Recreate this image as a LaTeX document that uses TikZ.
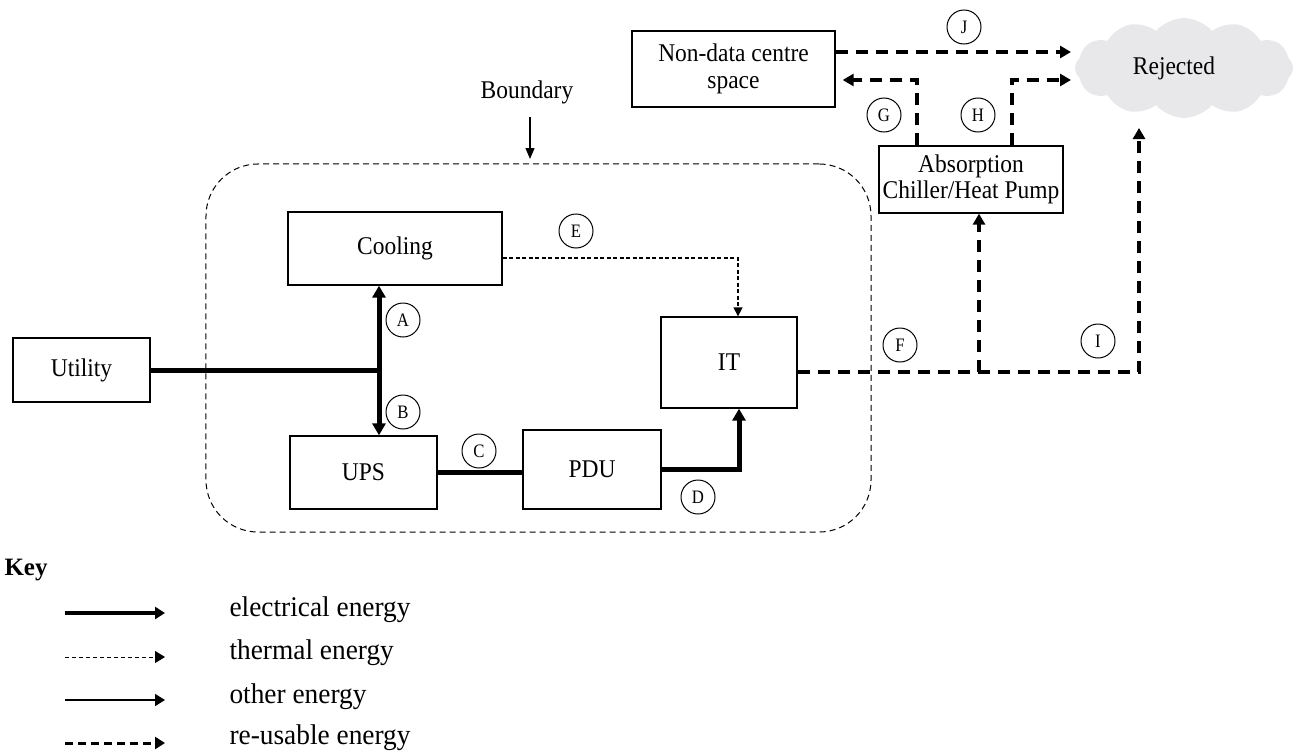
\documentclass[tikz,border=0pt]{standalone}
\usepackage{fontspec}
\setmainfont{Liberation Serif}
\newfontfamily\boxfont[FakeStretch=0.92]{Liberation Serif}
\newfontfamily\labfont[FakeStretch=0.88]{Liberation Serif}
\newfontfamily\keyfont[FakeStretch=0.96]{Liberation Serif}
\usetikzlibrary{arrows.meta,calc,shapes.symbols}
\definecolor{cloudgray}{RGB}{232,232,234}
\begin{document}
\begin{tikzpicture}[x=1bp,y=-1bp,
  box/.style={draw, line width=1.3bp, inner sep=1bp, align=center,
    font=\boxfont\fontsize{25.5bp}{26.5bp}\selectfont},
  lab/.style={draw, circle, line width=1bp, minimum size=34bp, inner sep=0pt,
    font=\labfont\fontsize{19bp}{19bp}\selectfont},
  plain/.style={font=\boxfont\fontsize{25.5bp}{26bp}\selectfont},
  keytext/.style={anchor=west, font=\keyfont\fontsize{28.5bp}{28.5bp}\selectfont},
  eline/.style={line width=5bp},
  elec/.style={line width=5bp, -{Triangle[length=12bp,width=13bp]}},
  elecboth/.style={line width=5bp, {Triangle[length=12bp,width=13bp]}-{Triangle[length=12bp,width=13bp]}},
  therm/.style={line width=1.3bp, dash pattern=on 4bp off 2.5bp, -{Triangle[length=9bp,width=9bp]}},
  reuse/.style={line width=3.5bp, dash pattern=on 12bp off 8bp, -{Triangle[length=11bp,width=12bp]}},
  bnd/.style={draw, line width=1bp, dash pattern=on 6bp off 4bp, rounded corners=52bp},
  thinarrow/.style={line width=1.3bp, -{Triangle[length=11bp,width=9bp]}},
  kelec/.style={line width=3.3bp, -{Triangle[length=10bp,width=12bp]}},
  ktherm/.style={line width=1bp, dash pattern=on 4bp off 3bp, -{Triangle[length=10bp,width=12bp]}},
  kother/.style={line width=1.6bp, -{Triangle[length=10bp,width=12bp]}},
  kreuse/.style={line width=3bp, dash pattern=on 8bp off 5bp, -{Triangle[length=10bp,width=12bp]}}
]
\useasboundingbox (0,0) rectangle (1299,753);

% boundary
\node[bnd, minimum width=665bp, minimum height=368bp, inner sep=0pt] (bnd) at (538.5,348) {};
\node[plain] (blab) at (527,92) {Boundary};
\coordinate (btop) at (530,117);
\coordinate (btip) at (530,159);
\draw[thinarrow] (btop) -- (btip);

% cloud
\node[cloud, cloud puffs=12, cloud puff arc=100, aspect=2.2, fill=cloudgray, draw=none,
  minimum width=218bp, minimum height=100bp, inner sep=0pt, plain] (rej) at (1184,68) {\hspace*{-20bp}Rejected};

% boxes
\node[box, minimum width=203bp, minimum height=76bp] (nd) at (733.5,69) {Non-data centre\\space};
\node[box, minimum width=184bp, minimum height=67bp] (abs) at (971,179.5) {Absorption\\Chiller/Heat Pump};
\node[box, minimum width=214bp, minimum height=73bp] (cool) at (395,248.5) {Cooling};
\node[box, minimum width=136bp, minimum height=91bp] (it) at (729,362.5) {IT};
\node[box, minimum width=137bp, minimum height=64bp] (util) at (81.5,370) {Utility};
\node[box, minimum width=147bp, minimum height=73bp] (ups) at (363.5,472.5) {UPS};
\node[box, minimum width=138bp, minimum height=79bp] (pdu) at (592,469.5) {PDU};

% electrical
\coordinate (jn) at (379,370);
\draw[eline] (util.east) -- (jn);
\draw[elecboth] (cool.south -| jn) -- (ups.north -| jn);
\draw[eline] (ups.east) -- (ups.east -| pdu.west);
\draw[elec] (pdu.east) -| ($(it.south)+(10,0)$);

% thermal
\draw[therm] ($(cool.east)+(0,9.5)$) -| ($(it.north)+(9,0)$);

% re-usable
\coordinate (iend) at (1139,128);
\coordinate (fbr) at (979,372);
\coordinate (jend) at (1071,52);
\coordinate (hend) at (1071,80);
\draw[reuse] ($(it.east)+(0,9.5)$) -| (iend);
\draw[reuse] (fbr) -- (fbr |- abs.south);
\draw[reuse] ($(abs.north)+(-54,0)$) |- ($(nd.east)+(7,11)$);
\draw[reuse] ($(abs.north)+(41,0)$) |- (hend);
\draw[reuse] (nd.east |- jend) -- (jend);

% circle labels
\node[lab] (A) at (403,320) {A};
\node[lab] (B) at (403,412) {B};
\node[lab] (C) at (479,451) {C};
\node[lab] (D) at (698,497) {D};
\node[lab] (E) at (576,231) {E};
\node[lab] (F) at (900,345) {F};
\node[lab] (G) at (884,115) {G};
\node[lab] (H) at (978,115) {H};
\node[lab] (I) at (1098,341) {I};
\node[lab] (J) at (964,27) {J};

% key
\node[anchor=west, font=\bfseries\fontsize{25bp}{25bp}\selectfont] (key) at (1,570) {Key};
\coordinate (k1a) at (65,613); \coordinate (k1b) at (165,613);
\coordinate (k2a) at (65,657); \coordinate (k2b) at (165,657);
\coordinate (k3a) at (65,700); \coordinate (k3b) at (165,700);
\coordinate (k4a) at (65,743); \coordinate (k4b) at (165,743);
\draw[kelec] (k1a) -- (k1b);
\draw[ktherm] (k2a) -- (k2b);
\draw[kother] (k3a) -- (k3b);
\draw[kreuse] (k4a) -- (k4b);
\node[keytext] (t1) at (226,610) {electrical energy};
\node[keytext] (t2) at (226,653) {thermal energy};
\node[keytext] (t3) at (226,697) {other energy};
\node[keytext] (t4) at (226,738) {re-usable energy};
\end{tikzpicture}
\end{document}
